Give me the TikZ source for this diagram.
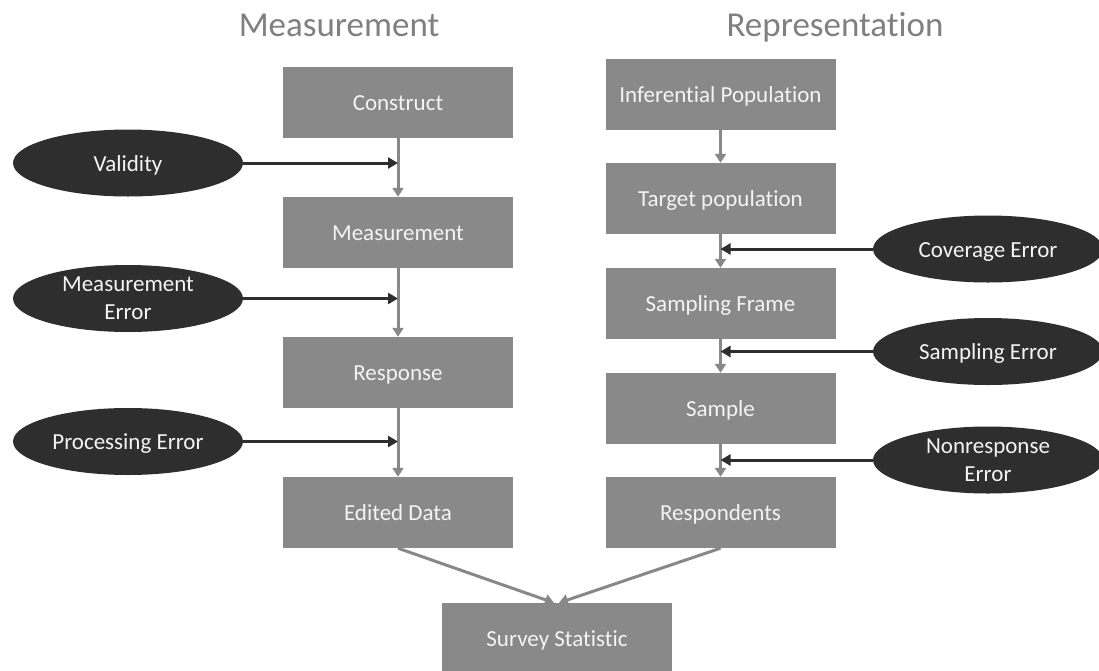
\documentclass[tikz,border=0pt]{standalone}
\usepackage{fontspec}
\setmainfont{Carlito}[Ligatures=NoCommon]
\usetikzlibrary{arrows.meta,shapes.geometric}
\definecolor{boxgray}{RGB}{137,137,137}
\definecolor{ovaldark}{RGB}{46,46,46}
\definecolor{titlegray}{RGB}{128,128,128}
\definecolor{linegray}{RGB}{136,136,136}
\definecolor{textwhite}{RGB}{244,244,244}
\begin{document}
\begin{tikzpicture}[x=1pt,y=-1pt,
  stage/.style={rectangle, fill=boxgray, minimum width=230pt, minimum height=71pt,
    inner sep=0pt, text=textwhite, text height=16pt, text depth=0pt,
    font=\fontsize{23}{28}\selectfont},
  errnode/.style={ellipse, fill=ovaldark, minimum width=230pt, minimum height=67pt,
    inner sep=0pt, text=textwhite, align=center, font=\fontsize{23}{28}\selectfont},
  oneline/.style={text height=16pt, text depth=0pt},
  heading/.style={text=titlegray, font=\fontsize{35}{40}\selectfont, inner sep=0pt, anchor=base},
  flow/.style={draw=linegray, line width=3pt, -{Triangle[width=11pt,length=9pt]}},
  errflow/.style={draw=ovaldark, line width=3pt, -{Triangle[width=11pt,length=10pt]}}
]
\useasboundingbox (0,0) rectangle (1099,670);

% column headings
\node[heading] (hmeas) at (339,36) {Measurement};
\node[heading] (hrep)  at (835,36) {Representation};

% measurement column
\node[stage] (con)  at (398,102)   {Construct};
\node[stage] (meas) at (398,232.5) {Measurement};
\node[stage] (resp) at (398,372.5) {Response};
\node[stage] (ed)   at (398,512.5) {Edited Data};

% representation column
\node[stage] (inf)   at (720.5,94.5)  {Inferential Population};
\node[stage] (tgt)   at (720.5,198.5) {Target population};
\node[stage] (frame) at (720.5,303.5) {Sampling Frame};
\node[stage] (samp)  at (720.5,408.5) {Sample};
\node[stage] (rsp)   at (720.5,512.5) {Respondents};

% combined result
\node[stage] (stat) at (557,638.5) {Survey Statistic};

% error sources
\node[errnode,oneline] (val)  at (128,163)   {Validity};
\node[errnode]         (merr) at (128,298.5) {Measurement\\Error};
\node[errnode,oneline] (perr) at (128,441.5) {Processing Error};
\node[errnode,oneline] (cov)  at (988,249)   {Coverage Error};
\node[errnode,oneline] (serr) at (988,351.5) {Sampling Error};
\node[errnode]         (nerr) at (988,460)   {Nonresponse\\Error};

% main flow
\draw[flow] (con) -- (meas);
\draw[flow] (meas) -- (resp);
\draw[flow] (resp) -- (ed);
\draw[flow] (inf) -- (tgt);
\draw[flow] (tgt) -- (frame);
\draw[flow] (frame) -- (samp);
\draw[flow] (samp) -- (rsp);
\draw[flow] (ed.south) -- ([xshift=-3pt]stat.north);
\draw[flow] (rsp.south) -- ([xshift=2pt]stat.north);

% error arrows into the flow lines
\draw[errflow] (val.east) -- (val -| con);
\draw[errflow] (merr.east) -- (merr -| meas);
\draw[errflow] (perr.east) -- (perr -| resp);
\draw[errflow] (cov.west) -- (cov -| tgt);
\draw[errflow] (serr.west) -- (serr -| frame);
\draw[errflow] (nerr.west) -- (nerr -| samp);
\end{tikzpicture}
\end{document}
